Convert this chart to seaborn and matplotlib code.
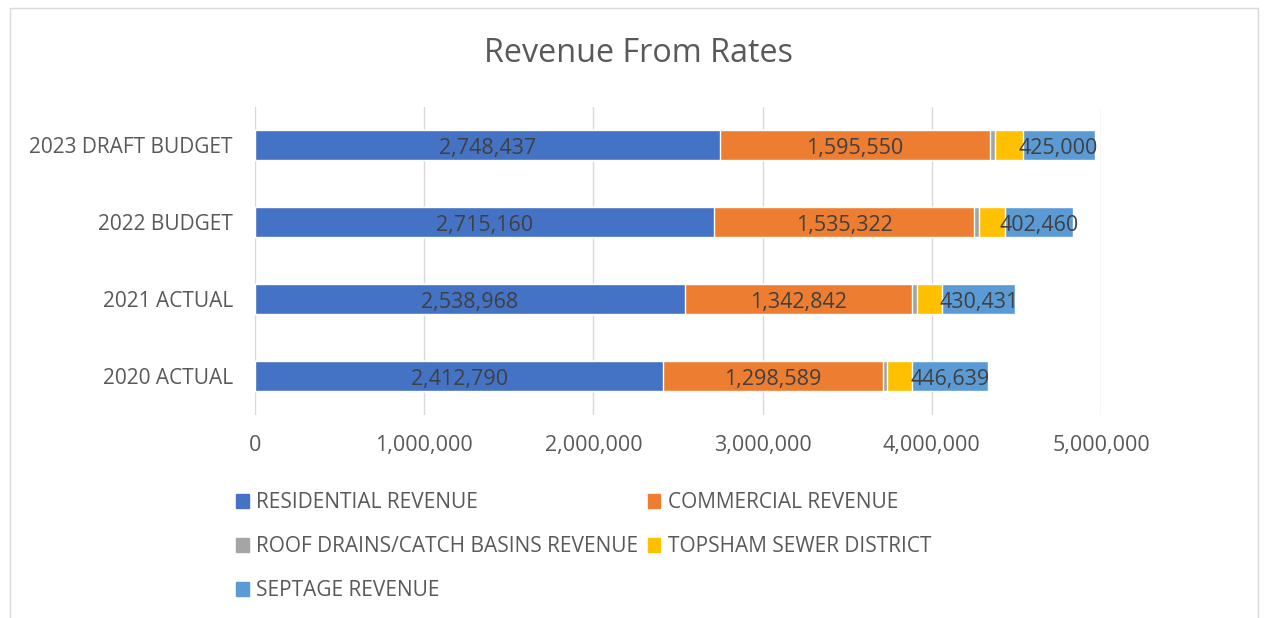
import numpy as np
import pandas as pd
import matplotlib
matplotlib.use("Agg")
import matplotlib.pyplot as plt
import matplotlib.patches as mpatches
from matplotlib.ticker import FuncFormatter
import seaborn as sns

# data
years = ["2023 DRAFT BUDGET", "2022 BUDGET", "2021 ACTUAL", "2020 ACTUAL"]
residential = [2748437, 2715160, 2538968, 2412790]
commercial = [1595550, 1535322, 1342842, 1298589]
roof_drains = [30000, 28000, 28000, 25000]
topsham = [163000, 154000, 152000, 147000]
septage = [425000, 402460, 430431, 446639]

series_names = ["RESIDENTIAL REVENUE", "COMMERCIAL REVENUE",
                "ROOF DRAINS/CATCH BASINS REVENUE", "TOPSHAM SEWER DISTRICT",
                "SEPTAGE REVENUE"]
series_vals = [residential, commercial, roof_drains, topsham, septage]
colors = ["#4472C4", "#ED7D31", "#A5A5A5", "#FFC000", "#5B9BD5"]
labeled = [True, True, False, False, True]

sns.set_theme(style="white")
plt.rcParams['font.family'] = ['Open Sans', 'DejaVu Sans']
text_col = "#595959"

df = pd.DataFrame({"year": years})
cum = np.zeros(len(years))
lefts = []
for name, vals in zip(series_names, series_vals):
    lefts.append(cum.copy())
    cum = cum + np.array(vals)
    df[name] = cum

W, H = 1265, 618
fig = plt.figure(figsize=(W / 100, H / 100), dpi=100)
ax = fig.add_axes([255 / W, 1 - 414.5 / H, (1101 - 255) / W, 308 / H])

# draw cumulative bars from the outermost inwards so they stack
for name, col in reversed(list(zip(series_names, colors))):
    sns.barplot(data=df, x=name, y="year", order=years, color=col,
                orient="h", width=0.4, saturation=1, ax=ax, zorder=2)

# data labels at segment centres
for vals, left, show in zip(series_vals, lefts, labeled):
    if not show:
        continue
    for i, (v, l) in enumerate(zip(vals, left)):
        ax.annotate(f"{v:,}", (l + v / 2, i), xytext=(0, -2.5),
                    textcoords="offset points", ha="center", va="center",
                    fontsize=15.5, color="#404040", zorder=5)

ax.set_xlim(0, 5000000)
ax.set_ylim(len(years) - 0.5, -0.5)
ax.set_xticks(np.arange(0, 5000001, 1000000))
ax.xaxis.set_major_formatter(FuncFormatter(lambda v, p: f"{int(v):,}"))
ax.grid(axis="x", color="#D9D9D9", linewidth=1, zorder=0)
ax.set_axisbelow(True)
for s in ax.spines.values():
    s.set_visible(False)
ax.set_xlabel("")
ax.set_ylabel("")
ax.tick_params(axis="x", length=0, pad=15, labelsize=15.5, labelcolor=text_col)
ax.tick_params(axis="y", length=0, pad=16, labelsize=15, labelcolor=text_col)

fig.text(638 / W, 1 - 53 / H, "Revenue From Rates", ha="center", va="center",
         fontsize=23.3, color=text_col)

handles = [mpatches.Patch(color=c, label=n) for n, c in zip(series_names, colors)]
order = [0, 2, 4, 1, 3]
fig.legend([handles[i] for i in order], [series_names[i] for i in order],
           ncol=2, loc="upper left", bbox_to_anchor=(226 / W, 1 - 482 / H),
           frameon=False, fontsize=15, labelcolor=text_col, borderpad=0,
           handlelength=0.6, handleheight=0.6, handletextpad=0.35,
           labelspacing=1.1, columnspacing=0.45)

# chart border
fig.add_artist(plt.Line2D([10 / W, 10 / W], [0, 1 - 8 / H], color="#D9D9D9", lw=1))
fig.add_artist(plt.Line2D([10 / W, 1258 / W], [1 - 8 / H, 1 - 8 / H], color="#D9D9D9", lw=1))
fig.add_artist(plt.Line2D([1258 / W, 1258 / W], [0, 1 - 8 / H], color="#D9D9D9", lw=1))

fig.savefig("out.png", dpi=100)
